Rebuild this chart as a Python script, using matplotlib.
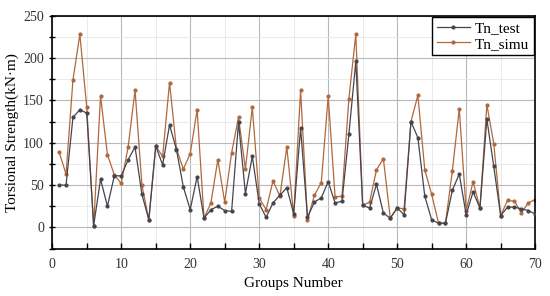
import matplotlib.pyplot as plt
import numpy as np

groups = np.arange(1, 71)

tn_test = [50, 50, 130, 139, 135, 2, 57, 25, 61, 61,
           80, 95, 39, 9, 96, 74, 121, 92, 48, 21,
           60, 11, 21, 25, 20, 19, 124, 40, 84, 28,
           12, 29, 38, 47, 16, 117, 12, 30, 35, 54,
           29, 31, 110, 196, 26, 23, 51, 17, 11, 23,
           15, 125, 106, 37, 9, 5, 5, 44, 63, 15,
           42, 23, 128, 72, 14, 24, 24, 22, 20, 16]

tn_simu = [89, 63, 174, 228, 142, 2, 155, 86, 62, 52,
           95, 162, 50, 9, 96, 84, 171, 93, 69, 87,
           139, 11, 29, 80, 30, 88, 130, 69, 142, 35,
           21, 55, 37, 95, 14, 162, 9, 38, 53, 155,
           36, 37, 152, 228, 26, 30, 68, 81, 11, 23,
           22, 125, 156, 68, 39, 5, 5, 67, 140, 20,
           54, 23, 145, 99, 14, 32, 31, 17, 29, 33]

plt.rcParams['font.family'] = ['Liberation Serif', 'DejaVu Serif']

fig = plt.figure(figsize=(5.5, 2.96), dpi=100)
ax = fig.add_axes([0.095, 0.16, 0.878, 0.787])

ax.plot(groups, tn_test, color='#45454f', lw=0.9, marker='o', ms=2, label='Tn_test', zorder=3)
ax.plot(groups, tn_simu, color='#b0683c', lw=0.9, marker='o', ms=2, label='Tn_simu', zorder=2)

ax.set_xlim(0, 70)
ax.set_ylim(-25, 250)
ax.set_xticks(np.arange(0, 71, 10))
ax.set_xticks(np.arange(0, 71, 5), minor=True)
ax.set_yticks(np.arange(0, 251, 50))
ax.set_yticks(np.arange(-25, 251, 25), minor=True)

ax.grid(True, which='major', color='#b8b8b8', lw=0.8)
ax.grid(True, which='minor', color='#e6e6e6', lw=0.6)
ax.set_axisbelow(True)

ax.tick_params(axis='x', which='both', direction='in', length=4, width=1,
               labelsize=10, pad=7, labelcolor='#333333')
ax.tick_params(axis='y', which='both', direction='inout', length=5, width=1,
               labelsize=10, labelcolor='#333333')
for s in ax.spines.values():
    s.set_linewidth(1.2)

ax.set_xlabel('Groups Number', fontsize=11, labelpad=4)
ax.set_ylabel('Torsional Strength(kN\u00b7m)', fontsize=11, labelpad=3)

leg = ax.legend(loc='upper right', fontsize=11, fancybox=False, edgecolor='black',
                framealpha=1, borderaxespad=0.1, handlelength=2.2, handletextpad=0.3,
                labelspacing=0.1, borderpad=0.3)
leg.get_frame().set_linewidth(1)

fig.savefig('out.png', dpi=100)
